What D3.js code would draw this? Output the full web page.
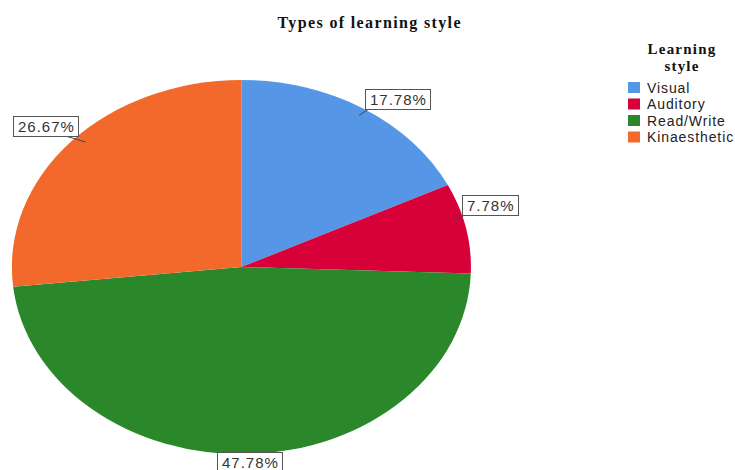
<!DOCTYPE html>
<html>
<head>
<meta charset="utf-8">
<script src="https://cdn.jsdelivr.net/npm/d3@7"></script>
<style>
  body { margin: 0; background: #fff; }
  svg { display: block; }
</style>
</head>
<body>
<svg id="chart"></svg>
<script>
// Données
const categories = ["Visual", "Auditory", "Read/Write", "Kinaesthetic"];
const percents = [17.78, 7.78, 47.78, 26.67];
const sliceColors = ["#5597e6", "#d70038", "#2a882a", "#f2692b"];

const width = 735;
const height = 470;

const svg = d3.select("#chart").attr("width", width).attr("height", height);

// Titre
svg.append("text")
  .attr("x", 369)
  .attr("y", 28)
  .attr("text-anchor", "middle")
  .attr("textLength", 183)
  .attr("lengthAdjust", "spacing")
  .style("font-family", "'Liberation Serif', 'DejaVu Serif', serif")
  .style("font-weight", "bold")
  .style("font-size", "16px")
  .style("fill", "#111")
  .text("Types of learning style");

// Camembert elliptique
const cx = 241.5, cy = 267;
const rx = 229.5, ry = 187;

const pie = d3.pie().sort(null).value((d) => d);
const arcs = pie(percents);
const arc = d3.arc().innerRadius(0).outerRadius(1);

const g = svg.append("g")
  .attr("transform", "translate(" + cx + "," + cy + ") scale(" + rx + "," + ry + ")");

g.selectAll("path")
  .data(arcs)
  .enter()
  .append("path")
  .attr("d", arc)
  .style("fill", (d, i) => sliceColors[i])
  .style("stroke", "none");

// x du bord de l'ellipse à une hauteur donnée
function edgeX(y, side) {
  const t = Math.min(1, Math.abs(y - cy) / ry);
  return cx + side * rx * Math.sqrt(1 - t * t);
}

// Étiquettes
const labels = svg.append("g");
arcs.forEach((d, i) => {
  const a = (d.startAngle + d.endAngle) / 2;
  const s = Math.sin(a), c = Math.cos(a);
  const ex = cx + rx * s;
  const ey = cy - ry * c;
  const txt = percents[i].toFixed(2) + "%";

  const t = labels.append("text")
    .style("font-family", "'Liberation Sans', Arial, sans-serif")
    .style("font-size", "15px")
    .style("letter-spacing", "1px")
    .style("fill", "#333")
    .text(txt);
  const w = t.node().getComputedTextLength() + 8;
  const h = 20;

  let bx, by, cornerX, cornerY;
  if (Math.abs(s) < 0.3) {
    // en bas ou en haut : cadre centré
    bx = ex - w / 2;
    by = c > 0 ? ey - h : ey - 2;
    cornerX = ex;
    cornerY = c > 0 ? by + h : by;
  } else {
    const side = s > 0 ? 1 : -1;
    const bottom = ey + 1 - 32 * Math.max(0, Math.abs(s) - 0.53);
    by = c > 0 ? bottom - h : ey;
    cornerY = c > 0 ? by + h : by;
    cornerX = edgeX(cornerY, side);
    bx = side > 0 ? cornerX : cornerX - w;
  }

  labels.insert("line", "text")
    .attr("x1", cornerX + (s > 0 ? -6 : 8)).attr("y1", cornerY + 6)
    .attr("x2", cornerX + (s > 0 ? 3 : -12)).attr("y2", cornerY)
    .style("stroke", "#444")
    .style("stroke-width", 1);

  labels.insert("rect", "text")
    .attr("x", Math.round(bx) + 0.5).attr("y", Math.round(by) + 0.5)
    .attr("width", Math.round(w)).attr("height", h)
    .style("fill", "#fff")
    .style("stroke", "#555")
    .style("stroke-width", 1);

  t.attr("x", Math.round(bx) + 5)
    .attr("y", Math.round(by) + 16);
});

// Légende
const legend = svg.append("g");
["Learning", "style"].forEach((t, i) => {
  legend.append("text")
    .attr("x", 682)
    .attr("y", 54 + i * 17)
    .attr("text-anchor", "middle")
    .style("font-family", "'Liberation Serif', 'DejaVu Serif', serif")
    .style("font-weight", "bold")
    .style("font-size", "15px")
    .style("letter-spacing", "1.2px")
    .style("fill", "#111")
    .text(t);
});

categories.forEach((name, i) => {
  const y = 82 + i * 16.5;
  legend.append("rect")
    .attr("x", 628).attr("y", y)
    .attr("width", 12).attr("height", 11)
    .style("fill", sliceColors[i]);
  legend.append("text")
    .attr("x", 647)
    .attr("y", y + 10.5)
    .style("font-family", "'Liberation Sans', Arial, sans-serif")
    .style("font-size", "14px")
    .style("letter-spacing", "0.9px")
    .style("fill", "#222")
    .text(name);
});
</script>
</body>
</html>
